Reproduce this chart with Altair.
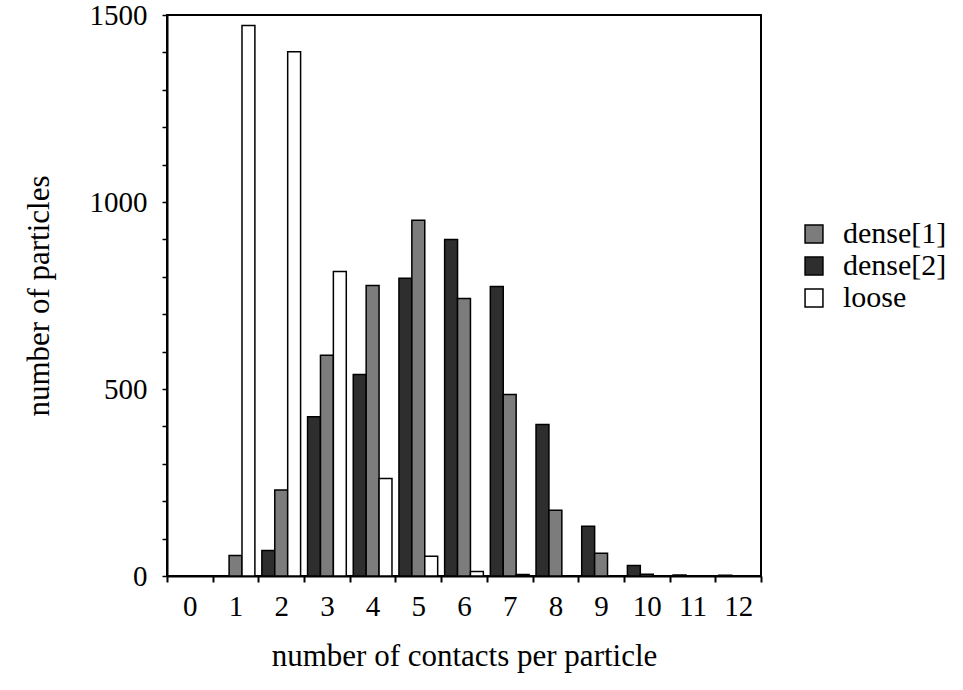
import altair as alt
import pandas as pd

categories = list(range(13))
dense1 = [0, 55, 230, 590, 777, 951, 742, 485, 176, 61, 5, 0, 0]
dense2 = [0, 0, 68, 426, 539, 796, 900, 774, 405, 133, 28, 3, 2]
loose = [0, 1472, 1402, 814, 261, 53, 12, 4, 0, 0, 0, 0, 0]

series = ["dense[2]", "dense[1]", "loose"]
legend_order = ["dense[1]", "dense[2]", "loose"]
colors = {"dense[1]": "#7c7c7c", "dense[2]": "#2e2e2e", "loose": "#ffffff"}

rows = []
for i, c in enumerate(categories):
    rows.append({"contacts": str(c), "series": "dense[2]", "count": dense2[i]})
    rows.append({"contacts": str(c), "series": "dense[1]", "count": dense1[i]})
    rows.append({"contacts": str(c), "series": "loose", "count": loose[i]})
df = pd.DataFrame(rows)

FONT = "Liberation Serif"
FS = 29

chart = alt.Chart(df).mark_bar(stroke="black", strokeWidth=1.5).encode(
    x=alt.X("contacts:N", sort=[str(c) for c in categories],
            scale=alt.Scale(paddingInner=0, paddingOuter=0),
            axis=alt.Axis(title="number of contacts per particle", labelAngle=0,
                          tickBand="extent", tickSize=6, tickWidth=2,
                          domainWidth=2, domainColor="black", tickColor="black",
                          labelFont=FONT, labelFontSize=FS, labelColor="black",
                          labelPadding=10, titleFont=FONT, titleFontSize=31,
                          titleFontWeight="normal", titleColor="black",
                          titlePadding=20)),
    xOffset=alt.XOffset("series:N", sort=series,
                        scale=alt.Scale(paddingOuter=0.27, paddingInner=0)),
    y=alt.Y("count:Q", scale=alt.Scale(domain=[0, 1500], nice=False),
            axis=alt.Axis(title="number of particles",
                          values=list(range(0, 1501, 100)),
                          labelExpr="datum.value % 500 == 0 ? datum.value : ''",
                          grid=False, tickSize=5, tickWidth=1.5,
                          domainWidth=2, domainColor="black", tickColor="black",
                          labelFont=FONT, labelFontSize=FS, labelColor="black",
                          labelPadding=15, titleFont=FONT, titleFontSize=31,
                          titleFontWeight="normal", titleColor="black",
                          titlePadding=34)),
    fill=alt.Fill("series:N",
                  scale=alt.Scale(domain=legend_order,
                                  range=[colors[s] for s in legend_order]),
                  legend=alt.Legend(title=None, orient="none", legendX=632,
                                    legendY=204, symbolType="square",
                                    symbolSize=320, symbolStrokeColor="black",
                                    symbolStrokeWidth=1.5, labelFont=FONT,
                                    labelFontSize=30, labelColor="black",
                                    rowPadding=2, labelOffset=14)),
).properties(
    width=594, height=561,
    padding={"left": 167, "top": 15, "right": 202, "bottom": 114},
    autosize=alt.AutoSizeParams(type="none"),
    background="white",
).configure_view(
    stroke="black", strokeWidth=2
).configure_legend(
    labelFont=FONT, labelFontSize=30, labelColor="black"
)

chart.save("out.html", embed_options={"renderer": "svg", "actions": False})
